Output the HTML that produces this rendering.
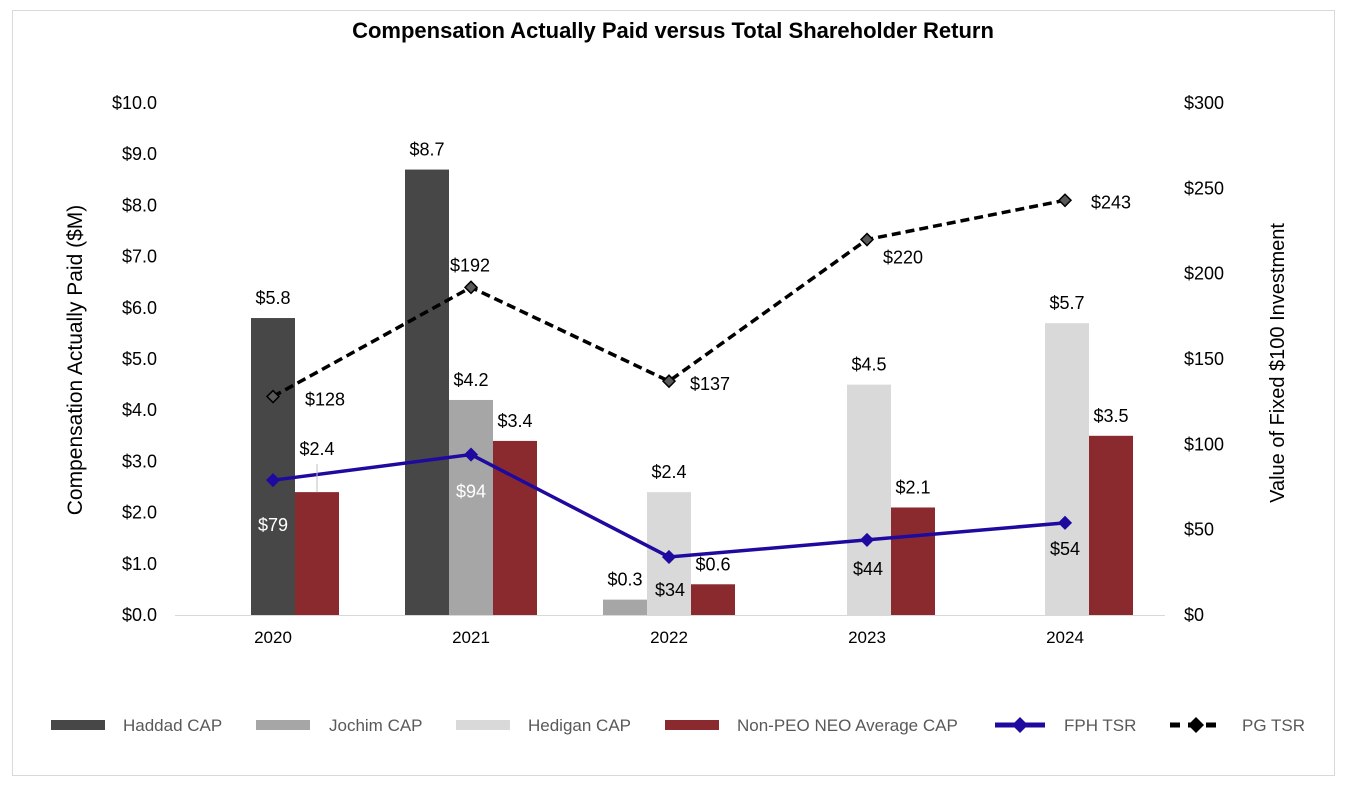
<!DOCTYPE html>
<html><head><meta charset="utf-8"><style>
body{margin:0;background:#fff;font-family:"Liberation Sans",Arial,sans-serif}
svg text{font-family:"Liberation Sans",Arial,sans-serif}
</style></head><body>
<svg width="1345" height="786" viewBox="0 0 1345 786">
<rect x="12.5" y="10.5" width="1322" height="765" fill="#fff" stroke="#d9d9d9"/>
<text x="673" y="38" text-anchor="middle" font-size="22" font-weight="bold">Compensation Actually Paid versus Total Shareholder Return</text>
<g id="axes"></g><g id="bars"></g><g id="lines"></g><g id="labels"></g>
<text transform="translate(82,360) rotate(-90)" text-anchor="middle" font-size="21">Compensation Actually Paid ($M)</text>
<text transform="translate(1284,363) rotate(-90)" text-anchor="middle" font-size="20">Value of Fixed $100 Investment</text>
<g id="legend" font-size="17" fill="#595959"></g>
</svg>
<script>
const categories=["2020","2021","2022","2023","2024"];
const haddad=[5.8,8.7,null,null,null];
const jochim=[null,4.2,0.3,null,null];
const hedigan=[null,null,2.4,4.5,5.7];
const nonPeo=[2.4,3.4,0.6,2.1,3.5];
const fphTsr=[79,94,34,44,54];
const pgTsr=[128,192,137,220,243];
const leftTicks=[0,1,2,3,4,5,6,7,8,9,10];
const rightTicks=[0,50,100,150,200,250,300];

const NS="http://www.w3.org/2000/svg";
function mk(tag,attrs,parent,txt){const e=document.createElementNS(NS,tag);for(const k in attrs)e.setAttribute(k,attrs[k]);if(txt!=null)e.textContent=txt;parent.appendChild(e);return e;}
const Y0=615,Y1=103,X0=175,X1=1165;
const yL=v=>Y0-(v/10)*(Y0-Y1);
const yR=v=>Y0-(v/300)*(Y0-Y1);
const step=(X1-X0)/categories.length;
const xC=i=>X0+step*(i+0.5)-1;
const axes=document.getElementById('axes'),bars=document.getElementById('bars'),lines=document.getElementById('lines'),labels=document.getElementById('labels');
let e=mk('line',{x1:X0,x2:X1,y1:Y0+0.5,y2:Y0+0.5,stroke:'#d9d9d9','stroke-width':1},axes);

leftTicks.forEach(t=>{const el=mk('text',{x:157,y:yL(t)+6,'text-anchor':'end','font-size':18},axes,'$'+t.toFixed(1));
});
rightTicks.forEach(t=>{const el=mk('text',{x:1184,y:yR(t)+6,'font-size':18},axes,'$'+t);
});
categories.forEach((c,i)=>{const el=mk('text',{x:xC(i),y:643,'text-anchor':'middle','font-size':17},axes,c);
});
const series=[{d:haddad,c:'#474747',n:'haddad'},{d:jochim,c:'#a6a6a6',n:'jochim'},{d:hedigan,c:'#d9d9d9',n:'hedigan'},{d:nonPeo,c:'#8b2a2e',n:'non-peo'}];
const BW=44;
categories.forEach((c,i)=>{
  const present=series.filter(s=>s.d[i]!=null);
  const n=present.length;
  const start=xC(i)-BW/2-(n-2)*BW+(i>=3?2:0);
  present.forEach((s,k)=>{
    const v=s.d[i],x=start+k*BW;
    const r=mk('rect',{x:x,y:yL(v),width:BW,height:Y0-yL(v),fill:s.c},bars);
    
    let ly=yL(v)-14;
    if(s.n==='non-peo'&&i===0){ly=yL(v)-37;
      const ll=mk('line',{x1:x+BW/2,x2:x+BW/2,y1:yL(v),y2:yL(v)-28,stroke:'#bfbfbf'},labels);
      }
    const t=mk('text',{x:x+BW/2,y:ly,'text-anchor':'middle','font-size':18},labels,'$'+v.toFixed(1));
    
  });
});
function line(data,color,dash,name,marker){
  const pts=data.map((v,i)=>xC(i)+','+yR(v)).join(' ');
  const p=mk('polyline',{points:pts,fill:'none',stroke:color,'stroke-width':3.5},lines);
  if(dash)p.setAttribute('stroke-dasharray',dash);
  
  data.forEach((v,i)=>{const x=xC(i),y=yR(v),s=6;
    const m=mk('polygon',{points:`${x},${y-s} ${x+s},${y} ${x},${y+s} ${x-s},${y}`,fill:marker,stroke:dash?'#000':color,'stroke-width':1.5},lines);
    });
}
line(pgTsr,'#000','9 5','pg-tsr','#595959');
line(fphTsr,'#1f0aa0',null,'fph-tsr','#1f0aa0');
const fphOff=[[0,51,'#fff'],[0,43,'#fff'],[1,39,'#000'],[1,35,'#000'],[0,32,'#000']];
fphTsr.forEach((v,i)=>{const t=mk('text',{x:xC(i)+fphOff[i][0],y:yR(v)+fphOff[i][1],'text-anchor':'middle','font-size':18,fill:fphOff[i][2]},labels,'$'+v);
});
const pgOff=[[32,9],[-21,-16],[21,9],[16,24],[26,8]];
pgTsr.forEach((v,i)=>{const t=mk('text',{x:xC(i)+pgOff[i][0],y:yR(v)+pgOff[i][1],'font-size':18},labels,'$'+v);
});
const lg=document.getElementById('legend');
const items=[['rect','#474747','Haddad CAP',51,123],['rect','#a6a6a6','Jochim CAP',256,329],['rect','#d9d9d9','Hedigan CAP',456,528],['rect','#8b2a2e','Non-PEO NEO Average CAP',665,737],['fph','#1f0aa0','FPH TSR',995,1064],['pg','#000','PG TSR',1170,1242]];
items.forEach(it=>{const g=mk('g',{},lg);
  
  const y=725;
  if(it[0]==='rect')mk('rect',{x:it[3],y:y-5,width:54,height:10,fill:it[1]},g);
  else if(it[0]==='fph'){mk('line',{x1:it[3],x2:it[3]+50,y1:y,y2:y,stroke:it[1],'stroke-width':5},g);const x=it[3]+25;mk('polygon',{points:`${x},${y-8} ${x+8},${y} ${x},${y+8} ${x-8},${y}`,fill:'#1f0aa0'},g);}
  else{mk('line',{x1:it[3],x2:it[3]+52,y1:y,y2:y,stroke:'#000','stroke-width':5,'stroke-dasharray':'10 8'},g);const x=it[3]+26;mk('polygon',{points:`${x},${y-8} ${x+8},${y} ${x},${y+8} ${x-8},${y}`,fill:'#000'},g);}
  mk('text',{x:it[4],y:y+6},g,it[2]);
});
</script>
</body></html>
